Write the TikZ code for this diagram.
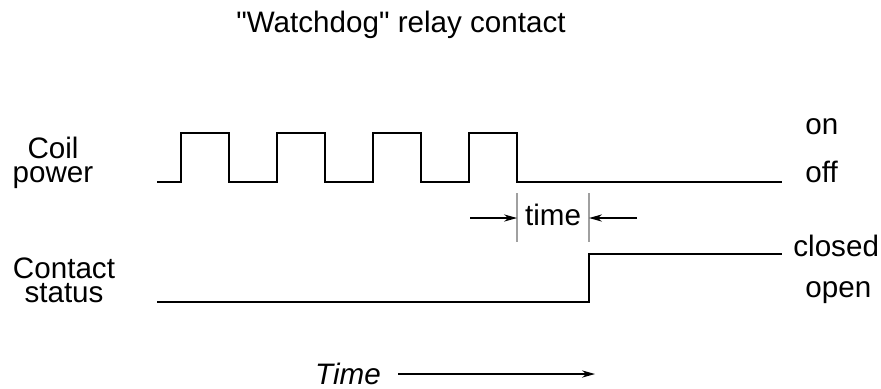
\documentclass[tikz,border=0pt]{standalone}
\usepackage{fontspec}
\setmainfont{Liberation Sans}[Ligatures=TeXOff]
\usepackage{tikz}
\usetikzlibrary{arrows.meta, positioning}
\definecolor{markgray}{RGB}{160, 160, 160}

\begin{document}
\begin{tikzpicture}[
    x=0.5pt, y=-0.5pt,
    every node/.style={font=\fontsize{14.8}{12}\selectfont, inner sep=0pt},
    lbl/.style={align=center},
    wave/.style={line width=0.75pt, line join=miter},
    marker/.style={markgray, line width=0.6pt},
    arrow/.style={-{Stealth[length=6.5pt, width=3.6pt]}, line width=0.6pt}
]
\useasboundingbox (0,0) rectangle (881,388);

\node[anchor=base] (title) at (401,32) {"Watchdog" relay contact};

% signal names and states
\node[lbl, anchor=base] (coil) at (53,182) {Coil\\power};
\node[lbl, anchor=base] (contact) at (64,302) {Contact\\status};
\node[anchor=base west] (on) at (805,134) {on};
\node[anchor=base west] (off) at (805,182) {off};
\node[anchor=base west] (closed) at (793,256) {closed};
\node[anchor=base west] (open) at (805,297) {open};

% coil pulses, then contact
\draw[wave] (157,182) \foreach \x in {181,277,373,469} {
    -- (\x,182) -- (\x,133) -- (\x+48,133) -- (\x+48,182)} -- (782,182);
\draw[wave] (157,302) -- (589,302) -- (589,254) -- (782,254);

% timeout marker
\coordinate (mkA) at (517,218);
\coordinate (mkB) at (589,218);
\coordinate (fromA) at (470,218);
\coordinate (fromB) at (637,218);
\draw[marker] (517,193) -- (517,242);
\draw[marker] (589,193) -- (589,242);
\node[anchor=base] (timeout) at (553,225) {time};
\draw[arrow] (fromA) -- (mkA);
\draw[arrow] (fromB) -- (mkB);

% time axis
\node[anchor=base, font=\fontsize{14.8}{12}\selectfont\itshape] (timeax) at (348,384) {Time};
\coordinate (axisend) at (595,374);
\draw[arrow] ([xshift=8.5pt]timeax.east |- axisend) -- (axisend);
\end{tikzpicture}
\end{document}
